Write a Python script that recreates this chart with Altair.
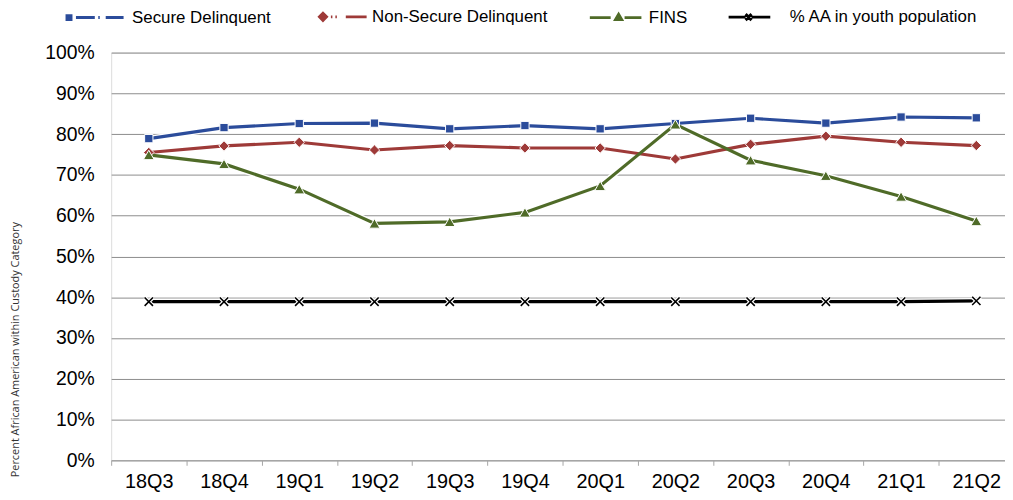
import altair as alt
import pandas as pd

quarters = ["18Q3", "18Q4", "19Q1", "19Q2", "19Q3", "19Q4",
            "20Q1", "20Q2", "20Q3", "20Q4", "21Q1", "21Q2"]
series_names = ["Secure Delinquent", "Non-Secure Delinquent", "FINS",
                "% AA in youth population"]
secure = [78.9, 81.6, 82.6, 82.7, 81.3, 82.1, 81.3, 82.6, 83.9, 82.7, 84.2, 84.0]
nonsecure = [75.5, 77.1, 78.0, 76.1, 77.2, 76.6, 76.6, 73.9, 77.5, 79.5, 78.0, 77.2]
fins = [74.9, 72.7, 66.5, 58.1, 58.5, 60.8, 67.3, 82.4, 73.6, 69.8, 64.7, 58.7]
aa_youth = [38.9, 38.9, 38.9, 38.9, 38.9, 38.9, 38.9, 38.9, 38.9, 38.9, 38.9, 39.1]
colors = ["#2B4C9B", "#9E3A38", "#4F6B28", "#000000"]

rows = []
for name, vals in zip(series_names, [secure, nonsecure, fins, aa_youth]):
    for q, v in zip(quarters, vals):
        rows.append({"quarter": q, "series": name, "value": v / 100.0})
df = pd.DataFrame(rows)

FONT = "Liberation Sans"

x_enc = alt.X(
    "quarter:N", sort=quarters, title=None,
    scale=alt.Scale(domain=quarters, paddingInner=0, paddingOuter=0, round=False),
    axis=alt.Axis(labelAngle=0, labelFont=FONT, labelFontSize=20, labelColor="#000000",
                  tickBand="extent", tickSize=5, tickColor="#A6A6A6", domainColor="#A6A6A6",
                  domainWidth=1, labelPadding=6, grid=False),
)
y_enc = alt.Y(
    "value:Q", title="Percent African American within Custody Category",
    scale=alt.Scale(domain=[0, 1], nice=False),
    axis=alt.Axis(format=".0%", values=[i / 10 for i in range(11)], labelFont=FONT,
                  labelFontSize=19.5, labelColor="#000000", ticks=False, domain=False,
                  labelPadding=17, gridColor="#8C8C8C", gridWidth=1,
                  titleFont="Open Sans", titleFontSize=11, titleFontWeight="normal",
                  titleColor="#333333", titleX=-96, titleY=299, titleAlign="center",
                  titleBaseline="middle", titleAngle=270),
)
color_scale = alt.Scale(domain=series_names, range=colors)

base = alt.Chart(df)

legend_paths = [
    "M-1,-0.067H-0.867V0.067H-1Z M-0.7,0H-0.067 M0.05,0H0.1 M0.3,0H0.9",
    "M-0.583,0L-0.467,-0.117L-0.35,0L-0.467,0.117Z M-0.2,0H-0.15 M-0.05,0H0 M0.3,0H1",
    "M-0.8,0H-0.1 M0.067,0.06L0.167,-0.11L0.267,0.06Z M0.367,0H0.933",
    "M-0.87,0H-0.3 M-0.3,-0.1L-0.1,0.1M-0.3,0.1L-0.1,-0.1 M-0.1,0H0.53",
]

# invisible layer whose only job is to carry the legend
legend_layer = base.mark_point(filled=True, opacity=0).encode(
    x=x_enc, y=y_enc,
    color=alt.Color("series:N", scale=color_scale, title=None),
    stroke=alt.Stroke("series:N", scale=color_scale, title=None),
    shape=alt.Shape("series:N", scale=alt.Scale(domain=series_names, range=legend_paths),
                    title=None),
)

halo = base.mark_line(color="white", strokeWidth=6).encode(
    x=x_enc, y=y_enc, detail="series:N")
lines = base.mark_line(strokeWidth=3.2).encode(
    x=x_enc, y=y_enc,
    stroke=alt.Stroke("series:N", scale=color_scale, title=None))

xpath = "M-1,-1L1,1M-1,1L1,-1"
marker_specs = [
    ("Secure Delinquent", "square", 70, colors[0]),
    ("Non-Secure Delinquent", "diamond", 110, colors[1]),
    ("FINS", "triangle-up", 120, colors[2]),
]
marker_layers = []
for name, shp, sz, col in marker_specs:
    marker_layers.append(
        base.transform_filter(alt.datum.series == name).mark_point(
            shape=shp, size=sz, filled=True, fill=col, stroke="white",
            strokeWidth=1, opacity=1).encode(x=x_enc, y=y_enc))
marker_layers.append(
    base.transform_filter(alt.datum.series == series_names[3]).mark_point(
        shape=xpath, size=70, filled=False, stroke="white", strokeWidth=4,
        opacity=1).encode(x=x_enc, y=y_enc))
marker_layers.append(
    base.transform_filter(alt.datum.series == series_names[3]).mark_point(
        shape=xpath, size=70, filled=False, stroke="black", strokeWidth=1.6,
        opacity=1).encode(x=x_enc, y=y_enc))

chart = alt.layer(legend_layer, halo, lines, *marker_layers).properties(
    width=910, height=411,
    autosize="none",
    padding={"left": 104, "top": 43, "right": -9, "bottom": 30},
).configure_view(stroke=None).configure(background="white").configure_legend(
    orient="none", legendX=-46, legendY=-68, direction="horizontal", columns=4,
    padding=0, columnPadding=35, symbolSize=3600, symbolStrokeWidth=3,
    symbolOpacity=1, labelFont=FONT, labelFontSize=17, labelColor="#000000",
    labelLimit=400, labelOffset=4)

chart.save("out.html", embed_options={"renderer": "svg", "actions": False})
